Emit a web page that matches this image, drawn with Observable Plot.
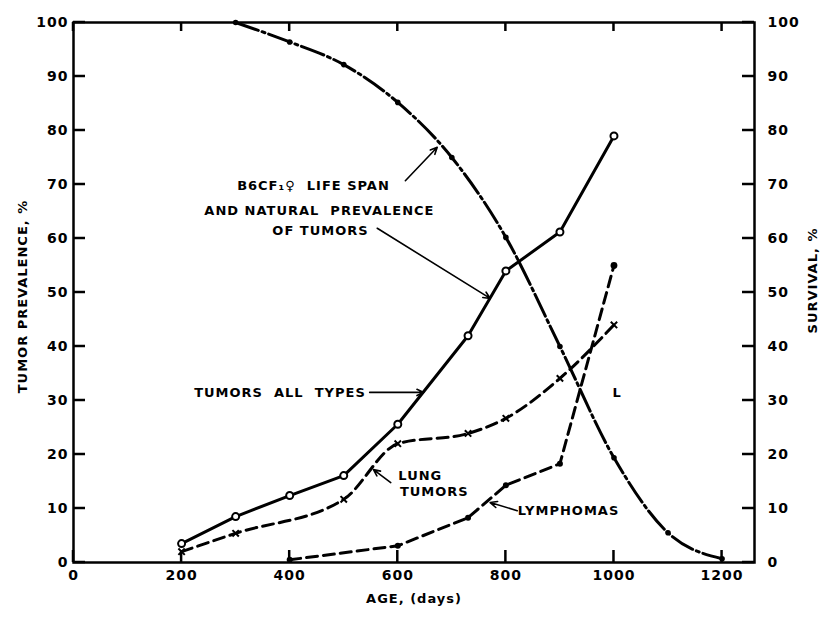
<!DOCTYPE html>
<html><head><meta charset="utf-8">
<script src="https://cdn.jsdelivr.net/npm/d3@7"></script>
<script src="https://cdn.jsdelivr.net/npm/@observablehq/plot@0.6"></script>
<style>
body{margin:0;background:#fff;}
svg text{letter-spacing:1px;}
</style></head><body><div id="chart"></div>
<script>
// ---- data ----
const allAges = [200, 300, 400, 500, 600, 730, 800, 900, 1000];
const allValues = [3.5, 8.5, 12.4, 16.1, 25.6, 42, 54, 61.2, 79];
const lungAges = [200, 300, 500, 600, 730, 800, 900, 1000];
const lungValues = [2, 5.4, 11.7, 22, 23.9, 26.7, 34.1, 44];
const lymphAges = [400, 600, 730, 800, 900, 1000];
const lymphValues = [0.5, 3.1, 8.3, 14.3, 18.3, 55];
const survAges = [300, 400, 500, 600, 700, 800, 900, 1000, 1100, 1200];
const survValues = [100, 96.4, 92.2, 85.2, 75, 60.2, 40, 19.4, 5.5, 0.7];
const xTicks = [0, 200, 400, 600, 800, 1000, 1200];
const yTicks = [0, 10, 20, 30, 40, 50, 60, 70, 80, 90, 100];
const annTexts = ["B6CF\u2081\u2640  LIFE SPAN", "AND NATURAL  PREVALENCE", "OF TUMORS", "TUMORS  ALL  TYPES", "LYMPHOMAS", "L"];
const annAges = [444, 455, 457, 382, 916, 1006];
const annValues = [69.8, 65.2, 61.5, 31.5, 9.6, 31.5];
const lungLabelTexts = ["LUNG", "TUMORS"];
const lungLabelAges = [601, 604];
const lungLabelValues = [16.1, 13];
const leadFromAge = [614, 562, 548, 587, 821];
const leadFromVal = [70.7, 61.9, 31.5, 14.8, 9.6];
const leadToAge = [673, 771, 648, 555, 771];
const leadToVal = [76.9, 48.9, 31.5, 17.2, 11.1];

const toRows = (xs, ys) => xs.map((x, i) => ({x, y: ys[i]}));
const all = toRows(allAges, allValues);
const lung = toRows(lungAges, lungValues);
const lymph = toRows(lymphAges, lymphValues);
const surv = toRows(survAges, survValues);
const anns = annTexts.map((t, i) => ({t, x: annAges[i], y: annValues[i]}));
const lungLabels = lungLabelTexts.map((t, i) => ({t, x: lungLabelAges[i], y: lungLabelValues[i]}));
const leads = leadFromAge.map((x, i) => ({x1: x, y1: leadFromVal[i], x2: leadToAge[i], y2: leadToVal[i]}));

const W = 827, H = 620, ML = 73, MR = 73, MT = 22, MB = 58;
const xDomain = [0, 1260], yDomain = [0, 100];
const font = "DejaVu Sans";
const chart = Plot.plot({
  width: W, height: H,
  marginLeft: ML, marginRight: MR, marginTop: MT, marginBottom: MB,
  style: {fontFamily: font, fontWeight: "bold", fontSize: "13px", background: "#fff", color: "#000"},
  x: {domain: xDomain},
  y: {domain: yDomain},
  marks: [
    Plot.frame({strokeWidth: 2.5}),
    // tick labels
    Plot.axisX({anchor: "bottom", ticks: xTicks, tickSize: 0, tickPadding: 8, tickFormat: d => String(d), fontSize: 14, label: null}),
    Plot.axisY({anchor: "left", ticks: yTicks, tickSize: 0, tickPadding: 5, fontSize: 14, label: null}),
    Plot.axisY({anchor: "right", ticks: yTicks, tickSize: 0, tickPadding: 13, fontSize: 14, label: null}),
    // series
    Plot.line(surv, {x: "x", y: "y", curve: "monotone-x", strokeWidth: 3, strokeDasharray: "24 4 3 4"}),
    Plot.dot(surv, {x: "x", y: "y", r: 2.8, fill: "black"}),
    Plot.line(all, {x: "x", y: "y", strokeWidth: 3}),
    Plot.dot(all, {x: "x", y: "y", r: 3.5, fill: "white", stroke: "black", strokeWidth: 2}),
    Plot.line(lung, {x: "x", y: "y", curve: "monotone-x", strokeWidth: 3, strokeDasharray: "11 6"}),
    Plot.dot(lung, {x: "x", y: "y", symbol: "times", r: 3, stroke: "black", strokeWidth: 2}),
    Plot.line(lymph, {x: "x", y: "y", strokeWidth: 3, strokeDasharray: "11 6"}),
    Plot.dot(lymph, {x: "x", y: "y", r: d => d.x === 1000 ? 4.5 : 3.5, fill: "black"}),
    // annotations
    Plot.arrow(leads, {x1: "x1", y1: "y1", x2: "x2", y2: "y2", strokeWidth: 1.6, headLength: 7, headAngle: 50}),
    Plot.text(anns, {x: "x", y: "y", text: "t", fontSize: 13}),
    Plot.text(lungLabels, {x: "x", y: "y", text: "t", textAnchor: "start", fontSize: 13}),
    // axis titles
    Plot.text(["AGE, (days)"], {text: d => d, frameAnchor: "bottom", dy: 40, fontSize: 13}),
    Plot.text(["TUMOR PREVALENCE, %"], {text: d => d, frameAnchor: "left", textAnchor: "middle", dx: -51, dy: 4, rotate: -90, fontSize: 13}),
    Plot.text(["SURVIVAL, %"], {text: d => d, frameAnchor: "right", textAnchor: "middle", dx: 58, dy: -12, rotate: -90, fontSize: 13})
  ]
});
// inward tick marks, positioned with the plot's own scales
const sx = chart.scale("x"), sy = chart.scale("y");
const fx = d3.scaleLinear(sx.domain, sx.range), fy = d3.scaleLinear(sy.domain, sy.range);
const [xl, xr] = sx.range, [yb, yt] = sy.range;
const g = d3.select(chart).append("g").attr("stroke", "#000").attr("stroke-width", 2.5);
xTicks.forEach(v => {
  g.append("line").attr("x1", fx(v)).attr("x2", fx(v)).attr("y1", yb).attr("y2", yb - 12);
  g.append("line").attr("x1", fx(v)).attr("x2", fx(v)).attr("y1", yt).attr("y2", yt + 9);
});
yTicks.forEach(v => {
  g.append("line").attr("y1", fy(v)).attr("y2", fy(v)).attr("x1", xl).attr("x2", xl + 12);
  g.append("line").attr("y1", fy(v)).attr("y2", fy(v)).attr("x1", xr).attr("x2", xr - 12);
});
document.getElementById("chart").appendChild(chart);
</script></body></html>
